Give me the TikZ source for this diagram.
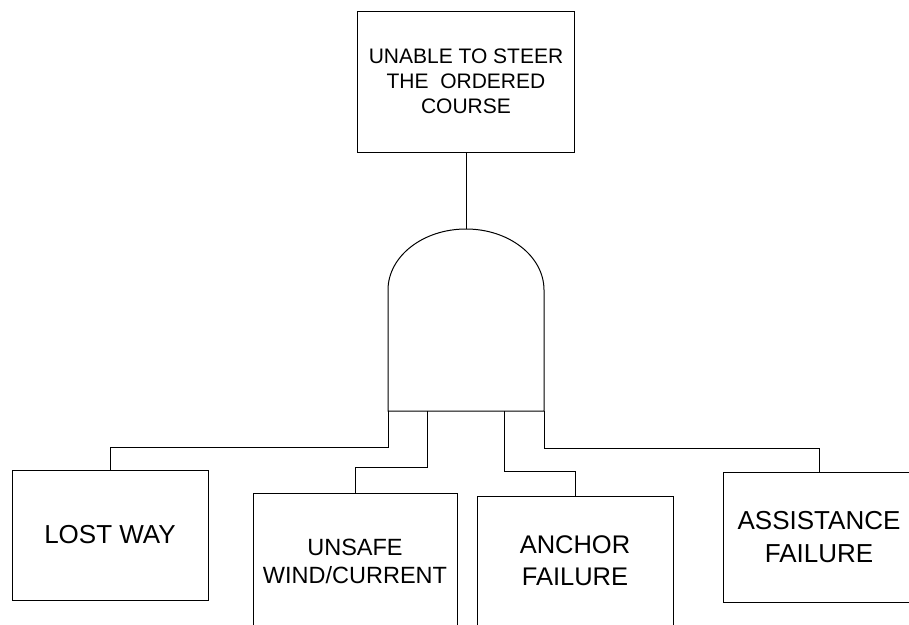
\documentclass[tikz,border=0pt]{standalone}
\usepackage{fontspec}
\setmainfont{Liberation Sans}
\usepackage{tikz}
\tikzstyle{topEvent} = [rectangle, draw=black, line width=1pt, minimum width=217pt, minimum height=141pt, inner sep=0pt, align=center, font=\fontsize{21}{25}\selectfont]
\tikzstyle{basicEvent} = [rectangle, draw=black, line width=1pt, minimum width=196pt, minimum height=130pt, inner sep=0pt, align=center, font=\fontsize{26}{33}\selectfont]
\tikzstyle{link} = [line width=1pt]

\begin{document}
\begin{tikzpicture}[x=1pt, y=-1pt]
\useasboundingbox (0,0) rectangle (909,624);
\clip (0,0) rectangle (909,624);

% Top event
\node (topEVENT) [topEvent] at (466,81.5) {UNABLE TO STEER\\THE\ \ ORDERED\\COURSE};

% Gate - drawn directly, corners named for the links
\draw[link] (388,411) -- (388,290) arc[start angle=180, end angle=360, x radius=78, y radius=61] -- (544,411) -- cycle;
\coordinate (gateTOP) at (466,229);
\coordinate (gateL) at (388,411);
\coordinate (gateIL) at (427,411);
\coordinate (gateIR) at (504,411);
\coordinate (gateR) at (544,411);

% Bottom row - basic events
\node (lostWAY) [basicEvent] at (110,535) {LOST WAY};
\node (unsafeWIND) [basicEvent, minimum width=204pt, minimum height=136pt, font=\fontsize{23.5}{28}\selectfont] at (355,561) {UNSAFE\\WIND/CURRENT};
\node (anchorFAIL) [basicEvent, font=\fontsize{25.5}{32}\selectfont] at (575,561) {ANCHOR\\FAILURE};
\node (assistFAIL) [basicEvent, minimum width=192pt] at (819,537) {ASSISTANCE\\FAILURE};

% Links
\draw [link] (topEVENT) -- (gateTOP);
\draw [link] (gateL) -- ++(0,36) -| (lostWAY.north);
\draw [link] (gateIL) -- ++(0,56) -| (unsafeWIND.north);
\draw [link] (gateIR) -- ++(0,60) -| (anchorFAIL.north);
\draw [link] (gateR) -- ++(0,37) -| (assistFAIL.north);

\end{tikzpicture}
\end{document}
